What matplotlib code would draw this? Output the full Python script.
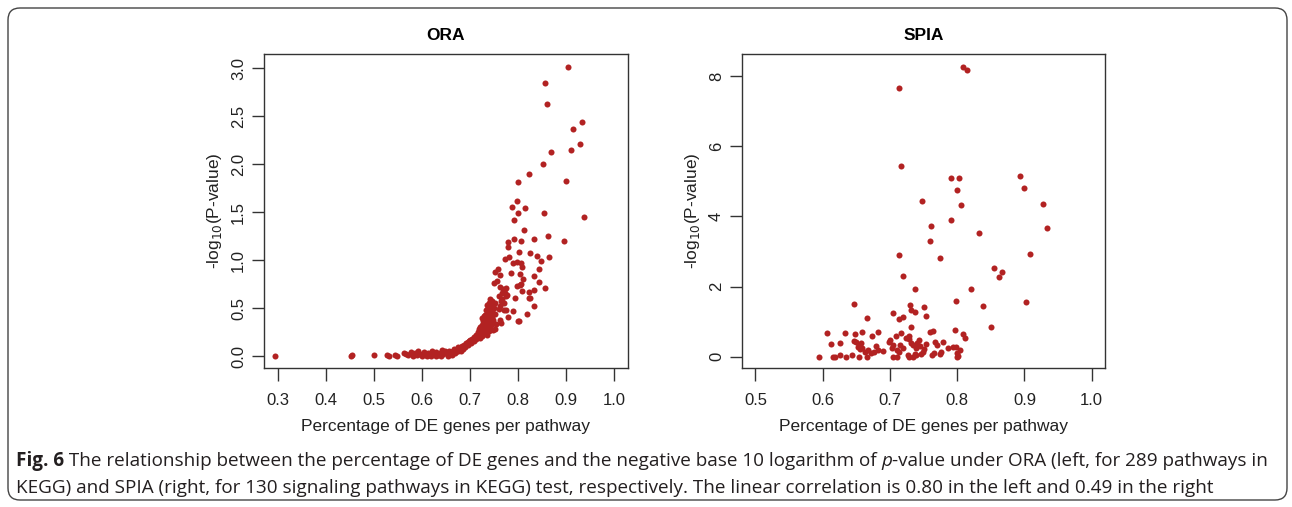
import matplotlib
matplotlib.use("Agg")
import matplotlib.pyplot as plt
from matplotlib.patches import FancyBboxPatch
import numpy as np

plt.rcParams['font.family'] = ['Liberation Sans', 'DejaVu Sans']

# ORA: percentage of DE genes vs -log10(p)
ora_x = [0.904, 0.856, 0.860, 0.934, 0.915, 0.930, 0.868, 0.910, 0.852, 0.822,
         0.800, 0.901, 0.797, 0.787, 0.801, 0.815, 0.854, 0.938, 0.792, 0.812,
         0.863, 0.834, 0.895, 0.792, 0.779, 0.806, 0.779, 0.802, 0.826, 0.840,
         0.864, 0.781, 0.773, 0.847, 0.798, 0.790, 0.806, 0.809, 0.843, 0.857,
         0.804, 0.785, 0.833, 0.843, 0.799, 0.805, 0.808, 0.823, 0.825, 0.833,
         0.819, 0.800, 0.793, 0.779, 0.775, 0.752, 0.759, 0.763, 0.810, 0.806,
         0.750, 0.756, 0.775, 0.770, 0.833, 0.767, 0.761, 0.775, 0.824, 0.765,
         0.771, 0.763, 0.790, 0.763, 0.765, 0.802, 0.752, 0.762, 0.768, 0.772,
         0.778, 0.766, 0.770, 0.760, 0.749, 0.755,
         0.742, 0.745, 0.748, 0.740, 0.736, 0.744, 0.750, 0.738, 0.733, 0.746,
         0.741, 0.752, 0.735, 0.729, 0.744, 0.738, 0.731, 0.749, 0.727, 0.740,
         0.734, 0.746, 0.725, 0.731, 0.742, 0.722, 0.736, 0.728, 0.719, 0.733,
         0.724, 0.740, 0.716, 0.729, 0.721, 0.712, 0.726, 0.735, 0.708, 0.718,
         0.704, 0.713, 0.700, 0.722, 0.697, 0.709, 0.692, 0.702, 0.688, 0.696,
         0.684, 0.690, 0.679, 0.686, 0.675, 0.671, 0.681, 0.667, 0.664, 0.676,
         0.660, 0.669, 0.656, 0.652, 0.648, 0.644, 0.641, 0.637, 0.633, 0.629,
         0.625, 0.621, 0.617, 0.613, 0.609, 0.605, 0.601, 0.597, 0.593, 0.589,
         0.585, 0.581, 0.577, 0.572, 0.566, 0.562, 0.548, 0.544, 0.532, 0.527,
         0.500, 0.453, 0.455, 0.294, 0.640, 0.655, 0.662, 0.620, 0.611, 0.630,
         0.739, 0.743, 0.737, 0.732, 0.726, 0.747, 0.753, 0.745, 0.739, 0.734,
         0.730, 0.723, 0.717, 0.714, 0.711, 0.706, 0.698, 0.694, 0.682, 0.673]
ora_y = [3.017, 2.847, 2.632, 2.441, 2.365, 2.208, 2.128, 2.149, 2.007, 1.896,
         1.816, 1.826, 1.622, 1.556, 1.490, 1.542, 1.497, 1.451, 1.417, 1.319,
         1.253, 1.219, 1.205, 1.222, 1.194, 1.198, 1.139, 1.083, 1.076, 1.049,
         1.038, 1.031, 1.010, 0.997, 0.983, 0.969, 0.969, 0.927, 0.913, 0.708,
         0.858, 0.868, 0.837, 0.771, 0.736, 0.739, 0.683, 0.674, 0.611, 0.528,
         0.444, 0.368, 0.608, 0.409, 0.483, 0.882, 0.906, 0.847, 0.802, 0.753,
         0.760, 0.784, 0.715, 0.691, 0.687, 0.659, 0.628, 0.628, 0.607, 0.576,
         0.552, 0.524, 0.475, 0.375, 0.344, 0.368, 0.281, 0.720, 0.700, 0.660,
         0.640, 0.600, 0.480, 0.490, 0.270, 0.340,
         0.600, 0.580, 0.550, 0.560, 0.530, 0.520, 0.500, 0.500, 0.480, 0.470,
         0.450, 0.440, 0.440, 0.420, 0.420, 0.400, 0.390, 0.380, 0.370, 0.360,
         0.350, 0.340, 0.330, 0.320, 0.310, 0.300, 0.300, 0.290, 0.280, 0.270,
         0.260, 0.260, 0.250, 0.240, 0.230, 0.220, 0.210, 0.220, 0.200, 0.200,
         0.180, 0.180, 0.170, 0.190, 0.150, 0.160, 0.140, 0.140, 0.120, 0.120,
         0.110, 0.100, 0.090, 0.080, 0.100, 0.070, 0.060, 0.080, 0.050, 0.050,
         0.040, 0.030, 0.060, 0.030, 0.050, 0.020, 0.070, 0.030, 0.010, 0.040,
         0.020, 0.050, 0.010, 0.030, 0.010, 0.040, 0.000, 0.020, 0.050, 0.010,
         0.030, 0.000, 0.040, 0.010, 0.020, 0.030, 0.000, 0.010, 0.000, 0.010,
         0.010, 0.000, 0.010, 0.000, 0.000, 0.000, 0.010, 0.000, 0.000, 0.000,
         0.540, 0.490, 0.460, 0.430, 0.400, 0.410, 0.560, 0.370, 0.330, 0.310,
         0.270, 0.250, 0.230, 0.210, 0.190, 0.170, 0.160, 0.130, 0.100, 0.060]

# SPIA: 130 signalling pathways
spia_x = [0.808, 0.815, 0.713, 0.716, 0.791, 0.803, 0.894, 0.800, 0.900, 0.747,
          0.806, 0.928, 0.791, 0.761, 0.933, 0.833, 0.760, 0.774, 0.714, 0.908,
          0.855, 0.867, 0.862, 0.720, 0.738, 0.821, 0.798, 0.903, 0.647, 0.730,
          0.750, 0.838, 0.731, 0.738, 0.704, 0.754, 0.666, 0.720, 0.714, 0.851,
          0.731, 0.607, 0.633, 0.648, 0.659, 0.682, 0.674, 0.717, 0.709, 0.729,
          0.759, 0.764, 0.796, 0.809, 0.811, 0.613, 0.625, 0.646, 0.650, 0.654,
          0.657, 0.652, 0.656, 0.667, 0.663, 0.680, 0.682, 0.677, 0.690, 0.700,
          0.699, 0.705, 0.703, 0.710, 0.715, 0.719, 0.713, 0.729, 0.732, 0.735,
          0.740, 0.739, 0.743, 0.745, 0.750, 0.749, 0.754, 0.767, 0.770, 0.779,
          0.766, 0.776, 0.787, 0.794, 0.798, 0.804, 0.799, 0.801, 0.595, 0.615,
          0.618, 0.625, 0.634, 0.644, 0.654, 0.666, 0.704, 0.710, 0.728, 0.735,
          0.739, 0.746, 0.763, 0.775, 0.799, 0.658, 0.672, 0.724, 0.737, 0.727]
spia_y = [8.266, 8.171, 7.658, 5.425, 5.102, 5.102, 5.150, 4.760, 4.798, 4.447,
          4.314, 4.352, 3.886, 3.725, 3.677, 3.515, 3.297, 2.812, 2.907, 2.917,
          2.537, 2.404, 2.261, 2.299, 1.929, 1.929, 1.596, 1.558, 1.501, 1.463,
          1.425, 1.435, 1.321, 1.264, 1.235, 1.159, 1.102, 1.140, 1.074, 0.846,
          0.836, 0.684, 0.684, 0.646, 0.713, 0.713, 0.589, 0.684, 0.599, 0.589,
          0.694, 0.741, 0.760, 0.646, 0.523, 0.361, 0.399, 0.447, 0.418, 0.333,
          0.380, 0.285, 0.219, 0.190, 0.143, 0.304, 0.190, 0.124, 0.162, 0.475,
          0.409, 0.333, 0.238, 0.190, 0.333, 0.238, 0.143, 0.494, 0.399, 0.333,
          0.399, 0.238, 0.475, 0.304, 0.209, 0.143, 0.361, 0.428, 0.333, 0.428,
          0.095, 0.143, 0.238, 0.266, 0.285, 0.190, 0.095, 0.019, 0.000, 0.000,
          0.000, 0.060, 0.000, 0.060, 0.000, 0.000, 0.000, 0.000, 0.000, 0.000,
          0.040, 0.090, 0.040, 0.080, 0.000, 0.250, 0.110, 0.520, 0.080, 0.050]

ora_xticks = [0.3, 0.4, 0.5, 0.6, 0.7, 0.8, 0.9, 1.0]
ora_yticks = [0.0, 0.5, 1.0, 1.5, 2.0, 2.5, 3.0]
spia_xticks = [0.5, 0.6, 0.7, 0.8, 0.9, 1.0]
spia_yticks = [0, 2, 4, 6, 8]

dot = '#b22222'
W, H = 1292, 507
fig = plt.figure(figsize=(W / 100, H / 100), dpi=100)


def px_axes(x0, y0, x1, y1):
    return fig.add_axes([x0 / W, 1 - y1 / H, (x1 - x0) / W, (y1 - y0) / H])


def style(ax, title, xt, yt, xfmt, yfmt):
    ax.set_title(title, fontsize=12.5, fontweight='bold', pad=10)
    for s in ax.spines.values():
        s.set_color('#333333')
        s.set_linewidth(1.0)
    ax.set_xticks(xt)
    ax.set_xticklabels([xfmt.format(v) for v in xt])
    ax.set_yticks(yt)
    ax.set_yticklabels([yfmt.format(v) for v in yt], rotation=90, va='center')
    ax.tick_params(direction='out', length=9, width=1, color='#333333',
                   labelsize=12, labelcolor='#222222')
    ax.tick_params(axis='x', pad=9)
    ax.tick_params(axis='y', pad=4)
    ax.set_xlabel('Percentage of DE genes per pathway', fontsize=12.5,
                  labelpad=8, color='#222222')
    ax.set_ylabel(r'-log$_{10}$(P-value)', fontsize=12.5, labelpad=5,
                  color='#222222')


ax1 = px_axes(264, 54, 628, 368)
ax1.scatter(ora_x, ora_y, s=19, c=dot, linewidths=0)
ax1.set_xlim(0.2715, 1.029)
ax1.set_ylim(-0.122, 3.149)
style(ax1, 'ORA', ora_xticks, ora_yticks, '{:.1f}', '{:.1f}')

ax2 = px_axes(742, 54, 1105, 368)
ax2.scatter(spia_x, spia_y, s=19, c=dot, linewidths=0)
ax2.set_xlim(0.480, 1.0198)
ax2.set_ylim(-0.322, 8.627)
style(ax2, 'SPIA', spia_xticks, spia_yticks, '{:.1f}', '{:d}')

# frame around whole figure (pixel coordinates)
bg = fig.add_axes([0, 0, 1, 1], zorder=-1)
bg.set_xlim(0, W)
bg.set_ylim(H, 0)
bg.axis('off')
bg.add_patch(FancyBboxPatch((8, 8), 1279, 492,
                            boxstyle='round,pad=0,rounding_size=12',
                            fc='none', ec='#444444', lw=1.0))

# caption, built from pieces so "Fig. 6" is bold and "p" italic
cap_font = ['Open Sans', 'DejaVu Sans']
cap_size = 13.6
cap_col = '#231f20'
renderer = fig.canvas.get_renderer()


def caption_line(y, pieces):
    x = 16
    for txt, kw in pieces:
        t = bg.text(x, y, txt, family=cap_font, fontsize=cap_size,
                    color=cap_col, va='center', ha='left', **kw)
        bb = t.get_window_extent(renderer)
        x += bb.width


caption_line(461, [('Fig. 6', {'fontweight': 'bold'}),
                   (' The relationship between the percentage of DE genes and the '
                    'negative base 10 logarithm of ', {}),
                   ('p', {'style': 'italic'}),
                   ('-value under ORA (left, for 289 pathways in', {})])
caption_line(488, [('KEGG) and SPIA (right, for 130 signaling pathways in KEGG) test, '
                    'respectively. The linear correlation is 0.80 in the left and '
                    '0.49 in the right', {})])

fig.savefig('out.png', dpi=100)
